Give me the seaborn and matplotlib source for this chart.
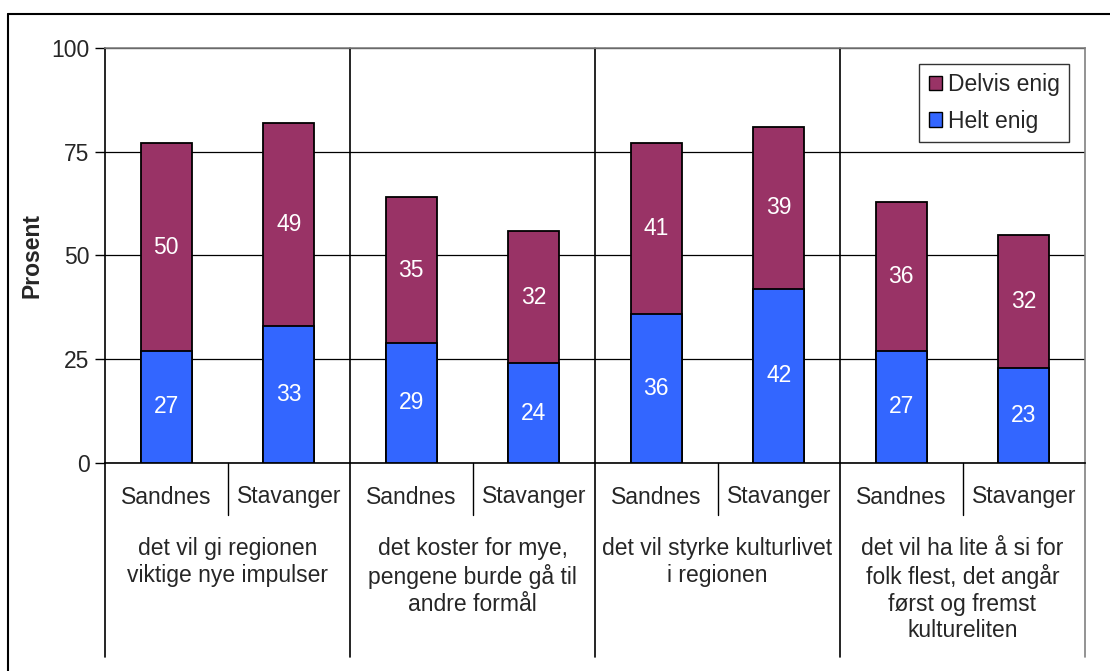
import matplotlib.pyplot as plt
import matplotlib.patches as mpatches
import matplotlib.lines as mlines
import matplotlib.transforms as mtransforms
import pandas as pd
import seaborn as sns

# data
groups = ['det vil gi regionen\nviktige nye impulser',
          'det koster for mye,\npengene burde gå til\nandre formål',
          'det vil styrke kulturlivet\ni regionen',
          'det vil ha lite å si for\nfolk flest, det angår\nførst og fremst\nkultureliten']
cities = ['Sandnes', 'Stavanger']
helt_enig = [27, 33, 29, 24, 36, 42, 27, 23]
delvis_enig = [50, 49, 35, 32, 41, 39, 36, 32]
yticks = [0, 25, 50, 75, 100]

sns.set_style('white')
plt.rcParams['font.family'] = ['Liberation Sans', 'DejaVu Sans']
FS = 16.5

slots = [f'{g}-{c}' for g in range(len(groups)) for c in cities]
df = pd.DataFrame({'slot': slots, 'helt': helt_enig, 'delvis': delvis_enig})
df['total'] = df['helt'] + df['delvis']

magenta = '#993366'
blue = '#3366FF'

fig = plt.figure(figsize=(11.1, 6.71), dpi=100)
ax = fig.add_axes([105/1110, 1-463/671, 980/1110, 415/671])

sns.barplot(data=df, x='slot', y='total', color=magenta, saturation=1, width=0.42,
            edgecolor='black', linewidth=1.3, ax=ax, zorder=3)
sns.barplot(data=df, x='slot', y='helt', color=blue, saturation=1, width=0.42,
            edgecolor='black', linewidth=1.3, ax=ax, zorder=4)

for i, row in df.iterrows():
    ax.text(i, row['helt']/2, str(row['helt']), color='white', ha='center', va='center',
            fontsize=FS, zorder=5)
    ax.text(i, row['helt'] + row['delvis']/2, str(row['delvis']), color='white',
            ha='center', va='center', fontsize=FS, zorder=5)

ax.set_ylim(0, 100)
ax.set_xlim(-0.5, len(slots)-0.5)
ax.set_yticks(yticks)
ax.set_yticklabels([str(t) for t in yticks], fontsize=FS)
ax.tick_params(axis='y', direction='out', length=7, width=1, color='black', left=True, pad=4)
ax.set_xticks([])
ax.set_xlabel('')
ax.set_ylabel('Prosent', fontsize=FS, fontweight='bold', labelpad=6)
ax.yaxis.grid(True, color='black', linewidth=0.9, zorder=0)
ax.set_axisbelow(True)
for s in ['top', 'right']:
    ax.spines[s].set_color('#808080')
    ax.spines[s].set_linewidth(1.2)
for s in ['left', 'bottom']:
    ax.spines[s].set_color('black')
    ax.spines[s].set_linewidth(1.2)

# multi-level category axis
trans = mtransforms.blended_transform_factory(ax.transData, ax.transAxes)
low = -(657-463)/415
for x in [1.5, 3.5, 5.5]:
    ax.plot([x, x], [1, low], color='black', lw=1.2, transform=trans, clip_on=False)
ax.plot([-0.5, -0.5], [0, low], color='black', lw=1.2, transform=trans, clip_on=False)
ax.plot([7.5, 7.5], [0, low], color='#808080', lw=1.2, transform=trans, clip_on=False)
for x in [0.5, 2.5, 4.5, 6.5]:
    ax.plot([x, x], [0, -(515-463)/415], color='black', lw=1, transform=trans, clip_on=False)

for i, s in enumerate(slots):
    ax.text(i, -(497-463)/415, cities[i % 2], ha='center', va='center', fontsize=FS,
            transform=trans)
for g, name in enumerate(groups):
    ax.text(2*g+0.5, -(537-463)/415, name, ha='center', va='top', fontsize=FS,
            linespacing=1.2, transform=trans)

handles = [mpatches.Patch(facecolor=magenta, edgecolor='black', label='Delvis enig'),
           mpatches.Patch(facecolor=blue, edgecolor='black', label='Helt enig')]
leg = ax.legend(handles=handles, loc='upper left', bbox_to_anchor=(0.831, 0.962),
                fontsize=FS, frameon=True, fancybox=False, handlelength=0.6,
                handleheight=0.6, handletextpad=0.25, labelspacing=0.6,
                borderaxespad=0, borderpad=0.4)
leg.get_frame().set_edgecolor('black')
leg.get_frame().set_linewidth(1)
leg.set_zorder(6)

# outer chart border
fig.add_artist(mlines.Line2D([8/1110, 1], [1-14/671, 1-14/671], color='black', lw=1.5))
fig.add_artist(mlines.Line2D([8/1110, 8/1110], [1-14/671, 0], color='black', lw=1.5))

fig.savefig('out.png', dpi=100)
